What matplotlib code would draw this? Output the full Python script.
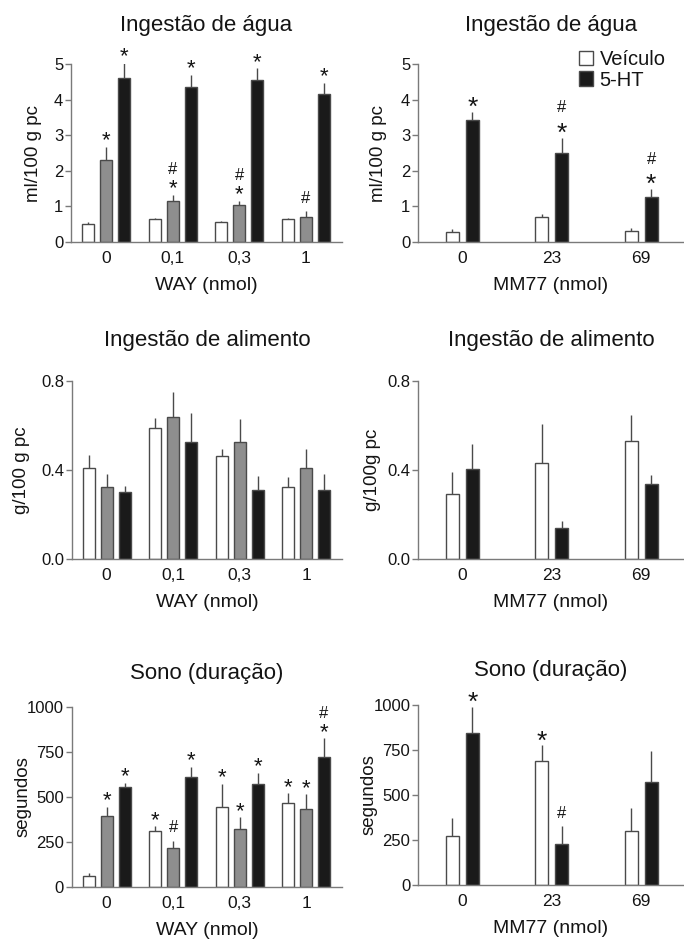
import matplotlib
matplotlib.use("Agg")
import matplotlib.pyplot as plt
from matplotlib.patches import Patch
import numpy as np

plt.rcParams["font.family"] = ["Liberation Sans", "DejaVu Sans"]

# WAY panels: three bars per dose
way_doses = ["0", "0,1", "0,3", "1"]
water_way_white = [0.50, 0.65, 0.56, 0.64]
water_way_white_err = [0.05, 0.03, 0.04, 0.03]
water_way_gray = [2.30, 1.14, 1.03, 0.70]
water_way_gray_err = [0.38, 0.19, 0.13, 0.16]
water_way_black = [4.60, 4.35, 4.54, 4.15]
water_way_black_err = [0.44, 0.35, 0.34, 0.33]
water_way_white_sig = ["", "", "", ""]
water_way_gray_sig = ["*", "*#", "*#", "#"]
water_way_black_sig = ["*", "*", "*", "*"]

food_way_white = [0.41, 0.587, 0.461, 0.324]
food_way_white_err = [0.057, 0.047, 0.033, 0.045]
food_way_gray = [0.324, 0.636, 0.525, 0.41]
food_way_gray_err = [0.056, 0.116, 0.102, 0.084]
food_way_black = [0.30, 0.525, 0.31, 0.31]
food_way_black_err = [0.027, 0.13, 0.062, 0.074]

sleep_way_white = [61, 311, 445, 466]
sleep_way_white_err = [13, 26, 127, 54]
sleep_way_gray = [395, 216, 320, 434]
sleep_way_gray_err = [50, 39, 67, 80]
sleep_way_black = [555, 613, 570, 724]
sleep_way_black_err = [24, 55, 65, 103]
sleep_way_white_sig = ["", "*", "*", "*"]
sleep_way_gray_sig = ["*", "#", "*", "*"]
sleep_way_black_sig = ["*", "*", "*", "*#"]

# MM77 panels: vehicle vs 5-HT
mm_doses = ["0", "23", "69"]
water_mm_veh = [0.28, 0.69, 0.32]
water_mm_veh_err = [0.08, 0.10, 0.06]
water_mm_ht = [3.43, 2.50, 1.26]
water_mm_ht_err = [0.23, 0.43, 0.23]
water_mm_veh_sig = ["", "", ""]
water_mm_ht_sig = ["*", "*#", "*#"]

food_mm_veh = [0.291, 0.432, 0.529]
food_mm_veh_err = [0.099, 0.173, 0.12]
food_mm_ht = [0.404, 0.14, 0.339]
food_mm_ht_err = [0.115, 0.03, 0.038]

sleep_mm_veh = [275, 690, 301]
sleep_mm_veh_err = [98, 85, 129]
sleep_mm_ht = [845, 227, 572]
sleep_mm_ht_err = [144, 101, 170]
sleep_mm_veh_sig = ["", "*", ""]
sleep_mm_ht_sig = ["*", "#", ""]

WHITE = "#ffffff"
GRAY = "#8e8e8e"
BLACK = "#1a1a1a"
EDGE = "#4a4a4a"
AXIS = "#7a7a7a"
TEXT = "#141414"

W, H = 684, 939


def rect(left, top, right, bottom):
    return [left / W, 1 - bottom / H, (right - left) / W, (bottom - top) / H]


def style_axes(ax, title, xlabel, ylabel, ylim, yticks, yticklabels, ylab_x, title_pad):
    ax.set_ylim(*ylim)
    ax.set_yticks(yticks)
    ax.set_yticklabels(yticklabels)
    for side in ("top", "right"):
        ax.spines[side].set_visible(False)
    for side in ("left", "bottom"):
        ax.spines[side].set_color(AXIS)
        ax.spines[side].set_linewidth(1.0)
    ax.tick_params(axis="y", length=4, width=1.0, color=AXIS, labelsize=12, pad=1.5, labelcolor=TEXT)
    ax.tick_params(axis="x", length=0, labelsize=12.5, pad=6.5, labelcolor=TEXT)
    ax.set_title(title, fontsize=16, pad=title_pad, color=TEXT)
    ax.set_xlabel(xlabel, fontsize=14, labelpad=8, color=TEXT)
    ax.set_ylabel(ylabel, fontsize=13.5, color=TEXT)
    ax.yaxis.set_label_coords(ylab_x, 0.5)


def add_marks(ax, x, tops, sigs, star_size, star_off, hash_top):
    for xi, top, sig in zip(x, tops, sigs):
        if "*" in sig:
            ax.annotate("*", xy=(xi, top), xytext=(0, star_off), textcoords="offset points",
                        ha="center", va="bottom", fontsize=star_size, color=TEXT,
                        annotation_clip=False)
        if "#" in sig:
            off = hash_top if "*" in sig else 4
            ax.annotate("#", xy=(xi, top), xytext=(0, off), textcoords="offset points",
                        ha="center", va="bottom", fontsize=12, color=TEXT,
                        annotation_clip=False)


def bars(ax, x, vals, errs, color, width):
    ax.bar(x, vals, width, color=color, edgecolor=EDGE, linewidth=1.0, zorder=2)
    ax.errorbar(x, vals, yerr=[np.zeros(len(vals)), errs], fmt="none",
                ecolor=EDGE, elinewidth=1.0, capsize=0, zorder=1)
    return [v + e for v, e in zip(vals, errs)]


def way_panel(ax, series, sigs, title, ylabel, ylim, yticks, ytl, ylab_x, title_pad):
    x = np.arange(len(way_doses))
    width, step = 0.18, 0.27
    colors = [WHITE, GRAY, BLACK]
    for k, (vals, errs) in enumerate(series):
        xs = x + (k - 1) * step
        tops = bars(ax, xs, vals, errs, colors[k], width)
        if sigs is not None:
            add_marks(ax, xs, tops, sigs[k], 16, -3.3, 12.5)
    ax.set_xlim(-0.525, 3.54)
    ax.set_xticks(x)
    ax.set_xticklabels(way_doses)
    style_axes(ax, title, "WAY (nmol)", ylabel, ylim, yticks, ytl, ylab_x, title_pad)


def mm_panel(ax, series, sigs, title, ylabel, ylim, yticks, ytl, ylab_x, title_pad):
    x = np.arange(len(mm_doses))
    width, step = 0.146, 0.112
    colors = [WHITE, BLACK]
    for k, (vals, errs) in enumerate(series):
        xs = x + (2 * k - 1) * step
        tops = bars(ax, xs, vals, errs, colors[k], width)
        if sigs is not None:
            add_marks(ax, xs, tops, sigs[k], 19, -6, 16)
    ax.set_xlim(-0.498, 2.48)
    ax.set_xticks(x)
    ax.set_xticklabels(mm_doses)
    style_axes(ax, title, "MM77 (nmol)", ylabel, ylim, yticks, ytl, ylab_x, title_pad)


fig = plt.figure(figsize=(6.84, 9.39), dpi=100)

ax1 = fig.add_axes(rect(71, 64, 342, 242))
way_panel(ax1,
          [(water_way_white, water_way_white_err), (water_way_gray, water_way_gray_err),
           (water_way_black, water_way_black_err)],
          [water_way_white_sig, water_way_gray_sig, water_way_black_sig],
          "Ingestão de água", "ml/100 g pc", (0, 5), range(6), [str(v) for v in range(6)], -0.107, 24)

ax2 = fig.add_axes(rect(418, 64, 684, 242))
mm_panel(ax2,
         [(water_mm_veh, water_mm_veh_err), (water_mm_ht, water_mm_ht_err)],
         [water_mm_veh_sig, water_mm_ht_sig],
         "Ingestão de água", "ml/100 g pc", (0, 5), range(6), [str(v) for v in range(6)], -0.115, 24)
ax2.legend(handles=[Patch(facecolor=WHITE, edgecolor=EDGE, label="Veículo"),
                    Patch(facecolor=BLACK, edgecolor=EDGE, label="5-HT")],
           loc="upper left", bbox_to_anchor=(0.605, 1.079), frameon=False, fontsize=14.5,
           handlelength=0.72, handleheight=0.72, handletextpad=0.3, labelspacing=0.08,
           borderpad=0, borderaxespad=0, labelcolor=TEXT)

food_ticks = [0.0, 0.4, 0.8]
food_tl = ["0.0", "0.4", "0.8"]
ax3 = fig.add_axes(rect(71.7, 381, 342, 559))
way_panel(ax3,
          [(food_way_white, food_way_white_err), (food_way_gray, food_way_gray_err),
           (food_way_black, food_way_black_err)],
          None, "Ingestão de alimento", "g/100 g pc", (0, 0.8), food_ticks, food_tl, -0.154, 25.5)

ax4 = fig.add_axes(rect(418, 381, 684, 559))
mm_panel(ax4,
         [(food_mm_veh, food_mm_veh_err), (food_mm_ht, food_mm_ht_err)],
         None, "Ingestão de alimento", "g/100g pc", (0, 0.8), food_ticks, food_tl, -0.138, 25.5)

sleep_ticks = [0, 250, 500, 750, 1000]
sleep_tl = [str(v) for v in sleep_ticks]
ax5 = fig.add_axes(rect(71.7, 707.3, 342, 886.7))
way_panel(ax5,
          [(sleep_way_white, sleep_way_white_err), (sleep_way_gray, sleep_way_gray_err),
           (sleep_way_black, sleep_way_black_err)],
          [sleep_way_white_sig, sleep_way_gray_sig, sleep_way_black_sig],
          "Sono (duração)", "segundos", (0, 1000), sleep_ticks, sleep_tl, -0.147, 20.6)

ax6 = fig.add_axes(rect(418, 704.7, 684, 885.3))
mm_panel(ax6,
         [(sleep_mm_veh, sleep_mm_veh_err), (sleep_mm_ht, sleep_mm_ht_err)],
         [sleep_mm_veh_sig, sleep_mm_ht_sig],
         "Sono (duração)", "segundos", (0, 1000), sleep_ticks, sleep_tl, -0.152, 20.7)

fig.savefig("out.png", dpi=100, facecolor="white")
